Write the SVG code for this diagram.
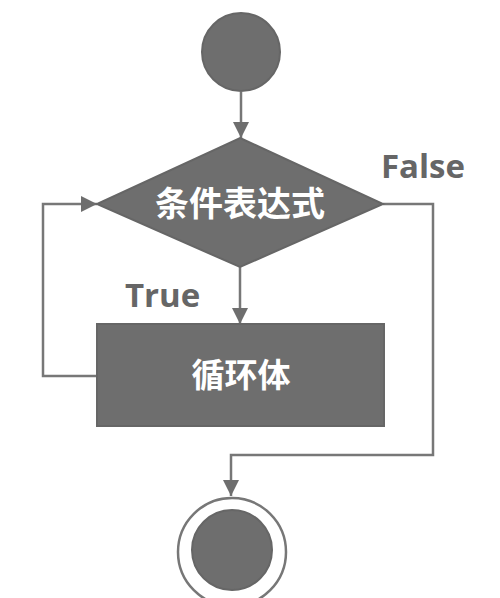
<svg xmlns="http://www.w3.org/2000/svg" width="500" height="598" viewBox="0 0 500 598">
<style>
.shape{fill:#6e6e6e;stroke:#666;stroke-width:2}
.conn{fill:none;stroke:#777;stroke-width:2.5}
.cn{font-family:"Noto Sans CJK SC","Noto Sans",sans-serif;font-weight:bold;font-size:34px;fill:#fff;text-anchor:middle}
.lbl{font-family:"Open Sans","Noto Sans",sans-serif;font-weight:bold;font-size:33px;fill:#666}
</style>
<defs>
<marker id="arr" viewBox="0 0 16 16" refX="16" refY="8" markerWidth="16" markerHeight="16" markerUnits="userSpaceOnUse" orient="auto">
<path d="M0,0 L16,8 L0,16 Z" fill="#6e6e6e"/>
</marker>
</defs>
<rect width="500" height="598" fill="#fff"/>
<g id="connectors">
<line class="conn" x1="241" y1="92" x2="241" y2="138" marker-end="url(#arr)"/>
<line class="conn" x1="240" y1="267" x2="240" y2="324" marker-end="url(#arr)"/>
<polyline class="conn" points="97,376 43,376 43,204 97,204" marker-end="url(#arr)"/>
<polyline class="conn" points="383,204 433,204 433,455 231,455 231,496" marker-end="url(#arr)"/>
</g>
<g id="start">
<circle class="shape" cx="241" cy="52" r="39"/>
</g>
<g id="condition">
<polygon class="shape" points="240,138 383,204 240,267 97,204"/>
<text class="cn" x="240" y="216">条件表达式</text>
</g>
<g id="body">
<rect class="shape" x="97" y="324" width="287" height="102"/>
<text class="cn" x="241" y="387" style="font-size:33px">循环体</text>
</g>
<g id="end">
<circle cx="232" cy="552" r="54" fill="none" stroke="#777" stroke-width="2.5"/>
<circle class="shape" cx="232" cy="550" r="40"/>
</g>
<g id="labels">
<text class="lbl" x="125" y="307">True</text>
<text class="lbl" x="381" y="178">False</text>
</g>
</svg>
